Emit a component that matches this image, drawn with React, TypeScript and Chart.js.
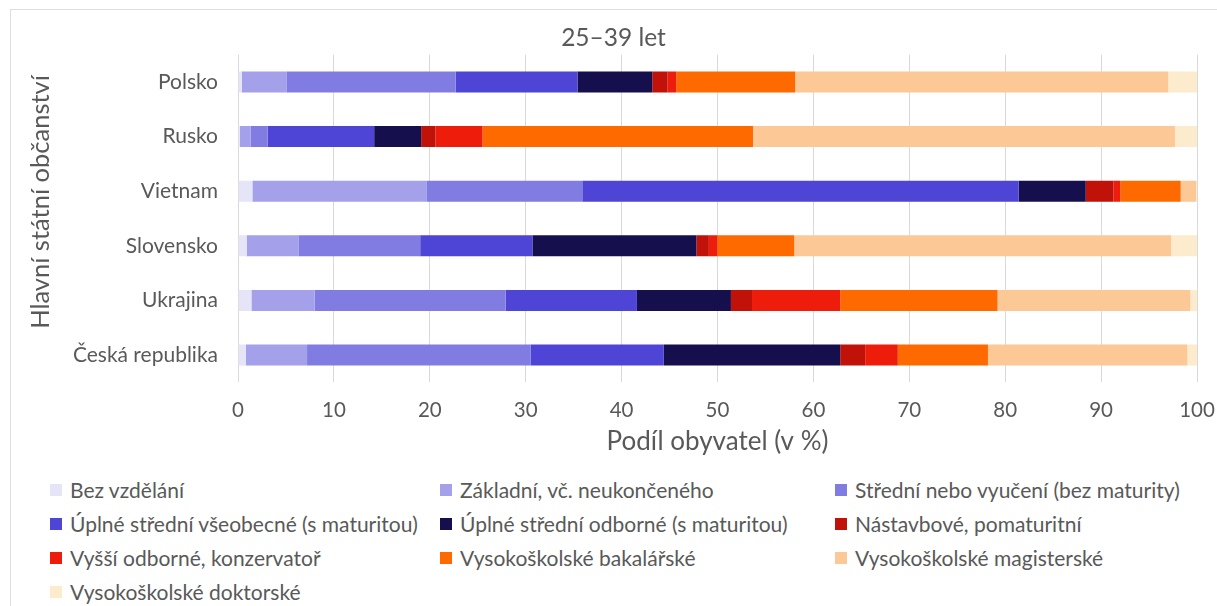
import React, { useEffect, useRef } from "react";
import { Chart, registerables } from "chart.js";

Chart.register(...registerables);

const chartTitle = "25–39 let";
const xAxisTitle = "Podíl obyvatel (v %)";
const yAxisTitle = "Hlavní státní občanství";

const categories = ["Polsko", "Rusko", "Vietnam", "Slovensko", "Ukrajina", "Česká republika"];

const seriesLabels = [
  "Bez vzdělání",
  "Základní, vč. neukončeného",
  "Střední nebo vyučení (bez maturity)",
  "Úplné střední všeobecné (s maturitou)",
  "Úplné střední odborné (s maturitou)",
  "Nástavbové, pomaturitní",
  "Vyšší odborné, konzervatoř",
  "Vysokoškolské bakalářské",
  "Vysokoškolské magisterské",
  "Vysokoškolské doktorské",
];

const seriesColors = [
  "#E6E4F7",
  "#A4A0EA",
  "#817CE1",
  "#4E44D6",
  "#150F4E",
  "#C01209",
  "#EE1C0A",
  "#FF6A00",
  "#FCC896",
  "#FDEBCD",
];

const bezVzdelani = [0.4, 0.2, 1.5, 0.9, 1.4, 0.8];
const zakladni = [4.7, 1.1, 18.2, 5.4, 6.6, 6.4];
const stredni = [17.6, 1.8, 16.2, 12.7, 19.9, 23.3];
const uplneVseobecne = [12.7, 11.1, 45.5, 11.7, 13.7, 13.9];
const uplneOdborne = [7.8, 4.9, 7.0, 17.1, 9.8, 18.4];
const nastavbove = [1.6, 1.5, 2.9, 1.3, 2.2, 2.6];
const vyssiOdborne = [0.9, 4.9, 0.7, 0.9, 9.2, 3.4];
const bakalarske = [12.4, 28.2, 6.3, 8.0, 16.4, 9.4];
const magisterske = [38.9, 44.0, 1.6, 39.3, 20.1, 20.8];
const doktorske = [3.0, 2.3, 0.1, 2.7, 0.7, 1.0];

const seriesValues = [
  bezVzdelani,
  zakladni,
  stredni,
  uplneVseobecne,
  uplneOdborne,
  nastavbove,
  vyssiOdborne,
  bakalarske,
  magisterske,
  doktorske,
];

const xTicks = [0, 10, 20, 30, 40, 50, 60, 70, 80, 90, 100];

const FONT = "Lato";
const TEXT = "#595959";

const legendCols = [50, 440, 835];
const legendRows = [489.5, 523.5, 557.5, 591.5];

// draws the vertical axis title (real canvas text) centred where the reference has it
const yTitlePlugin = {
  id: "yTitleText",
  afterDraw(chart: any) {
    const ctx = chart.ctx;
    ctx.save();
    ctx.translate(31, 193);
    ctx.rotate(-Math.PI / 2);
    ctx.fillStyle = TEXT;
    ctx.font = `25.5px ${FONT}`;
    ctx.textAlign = "center";
    ctx.textBaseline = "middle";
    ctx.fillText(yAxisTitle, 0, 0);
    ctx.restore();
  },
};

export default function App() {
  const ref = useRef<HTMLCanvasElement | null>(null);

  useEffect(() => {
    if (!ref.current) return;
    const chart = new Chart(ref.current, {
      type: "bar",
      data: {
        labels: categories,
        datasets: seriesLabels.map((label, i) => ({
          label,
          data: seriesValues[i],
          backgroundColor: seriesColors[i],
          borderWidth: 0,
          categoryPercentage: 1,
          barPercentage: 0.385,
        })),
      },
      plugins: [yTitlePlugin],
      options: {
        indexAxis: "y",
        responsive: false,
        animation: false,
        layout: { padding: { left: 20, right: 20, top: 0, bottom: 0 } },
        plugins: {
          legend: { display: false },
          tooltip: { enabled: false },
          title: {
            display: true,
            text: chartTitle,
            color: TEXT,
            font: { family: FONT, size: 24.5, weight: "normal" },
            padding: { top: 14.3, bottom: 2.0 },
          },
        },
        scales: {
          x: {
            stacked: true,
            min: 0,
            max: 100,
            afterBuildTicks: (scale: any) => {
              scale.ticks = xTicks.map((v) => ({ value: v }));
            },
            afterFit: (scale: any) => {
              scale.height = 77.7;
              scale.paddingLeft = 0;
              scale.paddingRight = 0;
            },
            grid: { color: "#d9d9d9", drawTicks: false, lineWidth: 1 },
            border: { display: false },
            ticks: {
              color: TEXT,
              padding: 16,
              font: { family: FONT, size: 20.5 },
            },
            title: {
              display: true,
              text: xAxisTitle,
              color: TEXT,
              font: { family: FONT, size: 26 },
              padding: { top: 0, bottom: 3 },
            },
          },
          y: {
            stacked: true,
            afterFit: (scale: any) => {
              scale.width = 208;
              scale.paddingTop = 0;
              scale.paddingBottom = 0;
            },
            grid: { display: false, drawTicks: false },
            border: { display: false },
            ticks: {
              color: TEXT,
              padding: 20,
              font: { family: FONT, size: 21 },
            },
            title: { display: false },
          },
        },
      },
    });
    return () => chart.destroy();
  }, []);

  return (
    <div
      style={{
        position: "fixed",
        left: 0,
        top: 0,
        width: 1217,
        height: 606,
        overflow: "hidden",
        background: "#fff",
        fontFamily: FONT,
      }}
    >
      <div
        style={{
          position: "absolute",
          left: 10,
          top: 9,
          width: 1300,
          height: 700,
          border: "1px solid #dedede",
          boxSizing: "border-box",
        }}
      />
      <canvas
        ref={ref}
        width={1207}
        height={451}
        style={{ position: "absolute", left: 10, top: 9, width: 1207, height: 451 }}
      />
      {seriesLabels.map((label, i) => {
        const col = i % 3;
        const row = Math.floor(i / 3);
        return (
          <div
            key={label}
            style={{
              position: "absolute",
              left: legendCols[col],
              top: legendRows[row] - 13,
              height: 26,
              display: "flex",
              alignItems: "center",
              whiteSpace: "nowrap",
              color: TEXT,
              fontSize: 21,
              lineHeight: "26px",
            }}
          >
            <span
              style={{
                display: "inline-block",
                width: 12,
                height: 12,
                background: seriesColors[i],
                marginRight: 8,
              }}
            />
            <span>{label}</span>
          </div>
        );
      })}
    </div>
  );
}
